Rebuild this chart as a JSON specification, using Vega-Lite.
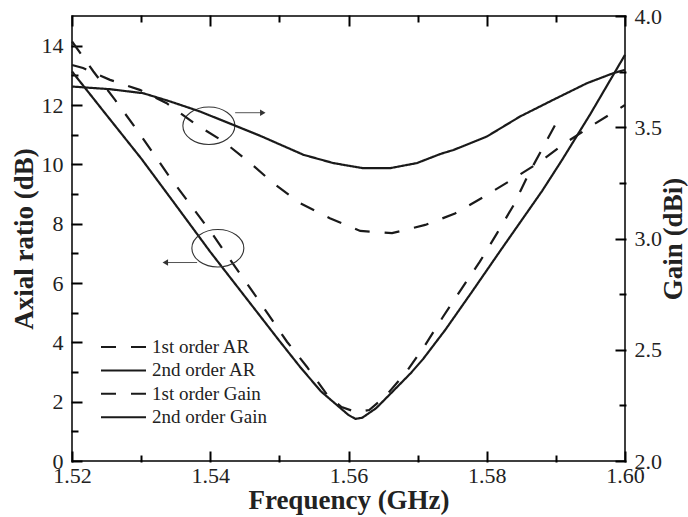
{
  "$schema": "https://vega.github.io/schema/vega-lite/v6.json",
  "width": 553,
  "height": 445,
  "autosize": {"type": "none"},
  "padding": {"left": 72, "top": 16, "right": 63, "bottom": 56},
  "background": "white",
  "datasets": {
    "ar": [
      {"f": 1.520, "v": 14.14, "series": "1st order AR"},
      {"f": 1.5231, "v": 13.13, "series": "1st order AR"},
      {"f": 1.5262, "v": 12.18, "series": "1st order AR"},
      {"f": 1.5294, "v": 11.16, "series": "1st order AR"},
      {"f": 1.5342, "v": 9.55, "series": "1st order AR"},
      {"f": 1.5404, "v": 7.62, "series": "1st order AR"},
      {"f": 1.5429, "v": 6.78, "series": "1st order AR"},
      {"f": 1.547, "v": 5.42, "series": "1st order AR"},
      {"f": 1.5511, "v": 4.02, "series": "1st order AR"},
      {"f": 1.554, "v": 3.17, "series": "1st order AR"},
      {"f": 1.5571, "v": 2.17, "series": "1st order AR"},
      {"f": 1.559, "v": 1.82, "series": "1st order AR"},
      {"f": 1.5612, "v": 1.64, "series": "1st order AR"},
      {"f": 1.563, "v": 1.72, "series": "1st order AR"},
      {"f": 1.5653, "v": 2.17, "series": "1st order AR"},
      {"f": 1.5684, "v": 3.01, "series": "1st order AR"},
      {"f": 1.5711, "v": 3.91, "series": "1st order AR"},
      {"f": 1.5737, "v": 4.87, "series": "1st order AR"},
      {"f": 1.5764, "v": 5.82, "series": "1st order AR"},
      {"f": 1.579, "v": 6.72, "series": "1st order AR"},
      {"f": 1.5815, "v": 7.68, "series": "1st order AR"},
      {"f": 1.5839, "v": 8.63, "series": "1st order AR"},
      {"f": 1.586, "v": 9.65, "series": "1st order AR"},
      {"f": 1.5882, "v": 10.6, "series": "1st order AR"},
      {"f": 1.590, "v": 11.37, "series": "1st order AR"},
      {"f": 1.520, "v": 13.13, "series": "2nd order AR"},
      {"f": 1.525, "v": 11.66, "series": "2nd order AR"},
      {"f": 1.530, "v": 10.2, "series": "2nd order AR"},
      {"f": 1.535, "v": 8.63, "series": "2nd order AR"},
      {"f": 1.540, "v": 7.05, "series": "2nd order AR"},
      {"f": 1.545, "v": 5.55, "series": "2nd order AR"},
      {"f": 1.550, "v": 4.05, "series": "2nd order AR"},
      {"f": 1.553, "v": 3.17, "series": "2nd order AR"},
      {"f": 1.556, "v": 2.35, "series": "2nd order AR"},
      {"f": 1.558, "v": 1.95, "series": "2nd order AR"},
      {"f": 1.560, "v": 1.55, "series": "2nd order AR"},
      {"f": 1.561, "v": 1.42, "series": "2nd order AR"},
      {"f": 1.562, "v": 1.46, "series": "2nd order AR"},
      {"f": 1.564, "v": 1.78, "series": "2nd order AR"},
      {"f": 1.566, "v": 2.25, "series": "2nd order AR"},
      {"f": 1.569, "v": 2.96, "series": "2nd order AR"},
      {"f": 1.5708, "v": 3.44, "series": "2nd order AR"},
      {"f": 1.574, "v": 4.42, "series": "2nd order AR"},
      {"f": 1.578, "v": 5.75, "series": "2nd order AR"},
      {"f": 1.582, "v": 7.1, "series": "2nd order AR"},
      {"f": 1.5853, "v": 8.2, "series": "2nd order AR"},
      {"f": 1.588, "v": 9.1, "series": "2nd order AR"},
      {"f": 1.5909, "v": 10.15, "series": "2nd order AR"},
      {"f": 1.595, "v": 11.7, "series": "2nd order AR"},
      {"f": 1.600, "v": 13.69, "series": "2nd order AR"}
    ],
    "gain": [
      {"f": 1.520, "v": 3.78, "series": "1st order Gain"},
      {"f": 1.5216, "v": 3.766, "series": "1st order Gain"},
      {"f": 1.5255, "v": 3.713, "series": "1st order Gain"},
      {"f": 1.5298, "v": 3.668, "series": "1st order Gain"},
      {"f": 1.5337, "v": 3.608, "series": "1st order Gain"},
      {"f": 1.538, "v": 3.511, "series": "1st order Gain"},
      {"f": 1.5419, "v": 3.436, "series": "1st order Gain"},
      {"f": 1.5458, "v": 3.339, "series": "1st order Gain"},
      {"f": 1.5491, "v": 3.249, "series": "1st order Gain"},
      {"f": 1.553, "v": 3.159, "series": "1st order Gain"},
      {"f": 1.5573, "v": 3.091, "series": "1st order Gain"},
      {"f": 1.5617, "v": 3.034, "series": "1st order Gain"},
      {"f": 1.5663, "v": 3.024, "series": "1st order Gain"},
      {"f": 1.5711, "v": 3.061, "series": "1st order Gain"},
      {"f": 1.5754, "v": 3.112, "series": "1st order Gain"},
      {"f": 1.5795, "v": 3.186, "series": "1st order Gain"},
      {"f": 1.5836, "v": 3.264, "series": "1st order Gain"},
      {"f": 1.5875, "v": 3.34, "series": "1st order Gain"},
      {"f": 1.5913, "v": 3.428, "series": "1st order Gain"},
      {"f": 1.5954, "v": 3.511, "series": "1st order Gain"},
      {"f": 1.600, "v": 3.60, "series": "1st order Gain"},
      {"f": 1.520, "v": 3.683, "series": "2nd order Gain"},
      {"f": 1.5255, "v": 3.671, "series": "2nd order Gain"},
      {"f": 1.5303, "v": 3.653, "series": "2nd order Gain"},
      {"f": 1.5342, "v": 3.616, "series": "2nd order Gain"},
      {"f": 1.5385, "v": 3.571, "series": "2nd order Gain"},
      {"f": 1.5433, "v": 3.511, "series": "2nd order Gain"},
      {"f": 1.5472, "v": 3.462, "series": "2nd order Gain"},
      {"f": 1.5491, "v": 3.436, "series": "2nd order Gain"},
      {"f": 1.5535, "v": 3.376, "series": "2nd order Gain"},
      {"f": 1.5578, "v": 3.339, "series": "2nd order Gain"},
      {"f": 1.5621, "v": 3.316, "series": "2nd order Gain"},
      {"f": 1.566, "v": 3.316, "series": "2nd order Gain"},
      {"f": 1.5699, "v": 3.339, "series": "2nd order Gain"},
      {"f": 1.5733, "v": 3.38, "series": "2nd order Gain"},
      {"f": 1.5752, "v": 3.398, "series": "2nd order Gain"},
      {"f": 1.580, "v": 3.458, "series": "2nd order Gain"},
      {"f": 1.5848, "v": 3.548, "series": "2nd order Gain"},
      {"f": 1.5896, "v": 3.623, "series": "2nd order Gain"},
      {"f": 1.5945, "v": 3.698, "series": "2nd order Gain"},
      {"f": 1.5983, "v": 3.743, "series": "2nd order Gain"},
      {"f": 1.600, "v": 3.758, "series": "2nd order Gain"}
    ],
    "ellipses": [
      {"f": 1.5398, "v": 11.3},
      {"f": 1.5411, "v": 7.17}
    ],
    "arrows": [
      {"f": 1.5436, "f2": 1.5476, "v": 11.74, "dir": "right"},
      {"f": 1.5381, "f2": 1.5335, "v": 6.69, "dir": "left"}
    ]
  },
  "config": {
    "font": "Liberation Serif",
    "view": {"stroke": "#000", "strokeWidth": 1.5},
    "axis": {
      "labelFont": "Liberation Serif",
      "labelFontSize": 22,
      "labelColor": "#222",
      "titleFont": "Liberation Serif",
      "titleFontSize": 27,
      "titleFontWeight": "bold",
      "titleColor": "#222",
      "domain": false,
      "ticks": true,
      "tickColor": "black",
      "tickOpacity": 1,
      "tickWidth": 2,
      "tickCap": "square",
      "zindex": 1,
      "grid": false,
      "labelFlush": false,
      "labelOverlap": false
    }
  },
  "layer": [
    {
      "layer": [
        {
          "data": {"name": "ar"},
          "mark": {"type": "line", "strokeWidth": 2.2, "color": "#1a1a1a"},
          "encoding": {
            "x": {
              "field": "f", "type": "quantitative",
              "scale": {"domain": [1.52, 1.6], "nice": false, "zero": false},
              "axis": {
                "orient": "bottom",
                "title": "Frequency (GHz)",
                "values": [1.52, 1.54, 1.56, 1.58, 1.6],
                "format": ".2f",
                "tickSize": 9,
                "offset": -9,
                "labelPadding": 4,
                "titlePadding": 1
              }
            },
            "y": {
              "field": "v", "type": "quantitative",
              "scale": {"domain": [0, 15], "nice": false, "zero": false},
              "axis": {
                "orient": "left",
                "title": "Axial ratio (dB)",
                "values": [0, 2, 4, 6, 8, 10, 12, 14],
                "format": "d",
                "tickSize": 9,
                "offset": -9,
                "labelPadding": 9,
                "titlePadding": 3
              }
            },
            "strokeDash": {
              "field": "series", "type": "nominal",
              "scale": {
                "domain": ["1st order AR", "2nd order AR", "1st order Gain", "2nd order Gain"],
                "range": [[15, 15], [1, 0], [15, 15], [1, 0]]
              },
              "legend": {
                "orient": "none",
                "legendX": 41.5,
                "legendY": 321,
                "title": null,
                "symbolType": "M -2.5 0 L 2.5 0",
                "symbolSize": 324,
                "symbolStrokeWidth": 2,
                "symbolStrokeColor": "#1a1a1a",
                "symbolFillColor": "transparent",
                "labelFont": "Liberation Serif",
                "labelFontSize": 19,
                "labelColor": "#222",
                "labelOffset": 18.5,
                "labelLimit": 300,
                "rowPadding": 3.4,
                "padding": 0,
                "encode": {
                  "symbols": {
                    "update": {
                      "strokeDash": {"signal": "indexof(['1st order AR','1st order Gain'], datum.value) >= 0 ? [10,5] : [1,0]"}
                    }
                  }
                }
              }
            }
          }
        },
        {
          "data": {"name": "ellipses"},
          "mark": {
            "type": "point",
            "shape": "M -1 0 A 1 0.72 0 1 1 1 0 A 1 0.72 0 1 1 -1 0 Z",
            "filled": false,
            "size": 2704,
            "stroke": "#333",
            "strokeWidth": 1.1,
            "opacity": 1
          },
          "encoding": {
            "x": {
              "field": "f", "type": "quantitative",
              "axis": {"orient": "bottom", "title": null, "labels": false, "values": [1.53, 1.55, 1.57, 1.59], "tickSize": 5, "offset": -5}
            },
            "y": {
              "field": "v", "type": "quantitative",
              "axis": {"orient": "left", "title": null, "labels": false, "values": [1, 3, 5, 7, 9, 11, 13], "tickSize": 5, "offset": -5}
            }
          }
        },
        {
          "data": {"name": "arrows"},
          "mark": {"type": "rule", "stroke": "#555", "strokeWidth": 1},
          "encoding": {
            "x": {"field": "f", "type": "quantitative", "axis": null},
            "x2": {"field": "f2"},
            "y": {"field": "v", "type": "quantitative", "axis": null}
          }
        },
        {
          "data": {"name": "arrows"},
          "mark": {"type": "point", "filled": true, "size": 40, "color": "#333", "opacity": 1},
          "encoding": {
            "x": {
              "field": "f2", "type": "quantitative",
              "axis": {"orient": "top", "title": null, "labels": false, "values": [1.53, 1.55, 1.57, 1.59], "tickSize": 5, "offset": -5}
            },
            "y": {
              "field": "v", "type": "quantitative",
              "axis": {"orient": "right", "title": null, "labels": false, "values": [1.875, 5.625, 9.375, 13.125], "tickSize": 5, "offset": -5}
            },
            "shape": {
              "field": "dir", "type": "nominal",
              "scale": {"domain": ["right", "left"], "range": ["triangle-right", "triangle-left"]},
              "legend": null
            }
          }
        }
      ],
      "resolve": {"axis": {"x": "independent", "y": "independent"}}
    },
    {
      "data": {"name": "gain"},
      "mark": {"type": "line", "strokeWidth": 2.2, "color": "#1a1a1a"},
      "encoding": {
        "x": {
          "field": "f", "type": "quantitative",
          "axis": {
            "orient": "top",
            "title": null,
            "labels": false,
            "values": [1.52, 1.54, 1.56, 1.58, 1.6],
            "tickSize": 9,
            "offset": -9
          }
        },
        "y": {
          "field": "v", "type": "quantitative",
          "scale": {"domain": [2, 4], "nice": false, "zero": false},
          "axis": {
            "orient": "right",
            "title": "Gain (dBi)",
            "titleAngle": 270,
            "titleBaseline": "top",
            "values": [2, 2.5, 3, 3.5, 4],
            "format": ".1f",
            "tickSize": 9,
            "offset": -9,
            "labelPadding": 9,
            "titlePadding": -1
          }
        },
        "strokeDash": {"field": "series", "type": "nominal", "legend": null}
      }
    }
  ],
  "resolve": {"scale": {"y": "independent"}, "axis": {"x": "independent", "y": "independent"}}
}
